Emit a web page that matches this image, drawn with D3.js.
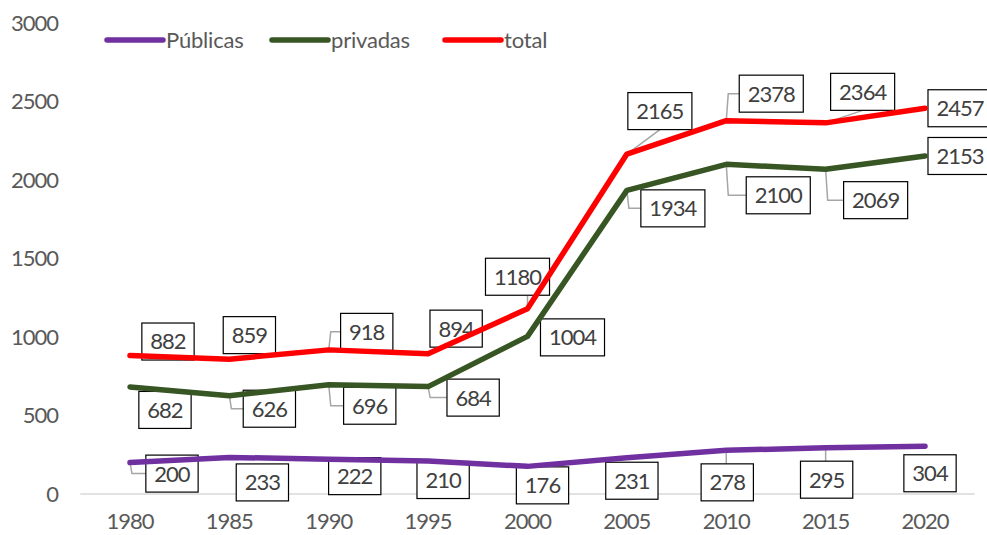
<!DOCTYPE html>
<html>
<head>
<meta charset="utf-8">
<script src="https://cdn.jsdelivr.net/npm/d3@7"></script>
<style>
  html, body { margin: 0; padding: 0; background: #fff; }
  svg { display: block; }
  text { font-family: Lato, "Open Sans", sans-serif; }
</style>
</head>
<body>
<div id="chart"></div>
<script>
// Instituciones por año: públicas, privadas y total
const years = ["1980", "1985", "1990", "1995", "2000", "2005", "2010", "2015", "2020"];
const publicas = [200, 233, 222, 210, 176, 231, 278, 295, 304];
const privadas = [682, 626, 696, 684, 1004, 1934, 2100, 2069, 2153];
const total = [882, 859, 918, 894, 1180, 2165, 2378, 2364, 2457];
const yTicks = [0, 500, 1000, 1500, 2000, 2500, 3000];
const seriesNames = ["Públicas", "privadas", "total"];

// Label box placement relative to its point (px), and whether a leader line is drawn
const labelShift = {
  "Públicas": [[42, 11], [33, 25], [26, 17], [15, 19], [15, 19], [5, 23], [1, 32], [1, 32], [5, 27]],
  "privadas": [[35, 23], [40, 13], [41, 21], [45, 11], [45, 1], [46, 18], [52, 31], [50, 31], [35, 0]],
  "total":    [[38, -14], [20, -24], [38, -18], [28, -25], [-10, -32], [33, -43], [45, -27], [37, -31], [35, 0]]
};
const leaderOn = {
  "Públicas": [1, 0, 0, 0, 0, 0, 1, 1, 0],
  "privadas": [0, 1, 1, 1, 0, 1, 1, 1, 0],
  "total":    [0, 0, 1, 0, 1, 1, 1, 1, 0]
};

const series = [
  { name: "Públicas", values: publicas, color: "#7030A0" },
  { name: "privadas", values: privadas, color: "#375623" },
  { name: "total", values: total, color: "#FF0000" }
];

const W = 987, H = 535;
const numSize = 22, numSpacing = -1;
const svg = d3.select("#chart").append("svg").attr("width", W).attr("height", H);

const x = d3.scaleBand().domain(years).range([80.3, 974.7]);
const y = d3.scaleLinear().domain([0, 3000]).range([494, 23]);
const cx = d => x(d) + x.bandwidth() / 2;

// Value axis labels
svg.append("g").selectAll("text").data(yTicks).join("text")
  .attr("x", 58).attr("y", d => y(d)).attr("dy", "0.36em")
  .attr("text-anchor", "end").attr("font-size", numSize)
  .attr("letter-spacing", numSpacing).attr("fill", "#595959")
  .text(d => d);

// Category axis labels
svg.append("g").selectAll("text").data(years).join("text")
  .attr("x", d => cx(d)).attr("y", 521.5).attr("dy", "0.36em")
  .attr("text-anchor", "middle").attr("font-size", numSize)
  .attr("letter-spacing", numSpacing).attr("fill", "#595959")
  .text(d => d);

// Baseline
svg.append("line")
  .attr("x1", x.range()[0]).attr("x2", x.range()[1])
  .attr("y1", y(0)).attr("y2", y(0))
  .attr("stroke", "#D9D9D9").attr("stroke-width", 1.3);

// Data labels: leader lines and boxes
const labelLayer = svg.append("g");
const leaderLayer = labelLayer.append("g");
const boxLayer = labelLayer.append("g");

series.forEach(s => {
  s.values.forEach((v, i) => {
    const px = cx(years[i]), py = y(v);
    const [dx, dy] = labelShift[s.name][i];
    const bx = px + dx, by = py + dy;
    const g = boxLayer.append("g");
    const t = g.append("text")
      .attr("x", bx).attr("y", by).attr("dy", "0.36em")
      .attr("text-anchor", "middle").attr("font-size", numSize)
      .attr("letter-spacing", numSpacing).attr("fill", "#404040")
      .text(v);
    const tw = t.node().getComputedTextLength();
    const bw = tw + 17, bh = 37;
    const left = bx - bw / 2, right = bx + bw / 2, top = by - bh / 2, bottom = by + bh / 2;
    g.insert("rect", "text")
      .attr("x", left).attr("y", top).attr("width", bw).attr("height", bh)
      .attr("fill", "#fff").attr("stroke", "#000").attr("stroke-width", 1.2);

    if (leaderOn[s.name][i]) {
      const outX = px < left ? left - px : (px > right ? px - right : 0);
      const outY = py < top ? top - py : (py > bottom ? py - bottom : 0);
      let pts;
      if (outX >= outY) {
        const ex = px < left ? left : right;
        pts = [[px, py], [px + (ex > px ? 2 : -2), by], [ex, by]];
      } else {
        const ey = py < top ? top : bottom;
        const ax = (px > left + 5 && px < right - 5) ? px : bx;
        pts = [[px, py], [ax, ey]];
      }
      leaderLayer.append("path")
        .attr("d", d3.line()(pts))
        .attr("fill", "none").attr("stroke", "#A6A6A6").attr("stroke-width", 1.5);
    }
  });
});

// Series lines
const line = d3.line().x((d, i) => cx(years[i])).y(d => y(d));
svg.append("g").selectAll("path").data(series).join("path")
  .attr("d", d => line(d.values))
  .attr("fill", "none")
  .attr("stroke", d => d.color)
  .attr("stroke-width", 5.5)
  .attr("stroke-linejoin", "round")
  .attr("stroke-linecap", "round");

// Legend
const legendPos = [107, 272, 445];
const legend = svg.append("g").selectAll("g").data(series).join("g")
  .attr("transform", (d, i) => `translate(${legendPos[i]},40)`);
legend.append("line")
  .attr("x1", 0).attr("x2", 56).attr("y1", 0).attr("y2", 0)
  .attr("stroke", d => d.color).attr("stroke-width", 5.5).attr("stroke-linecap", "round");
legend.append("text")
  .attr("x", 59).attr("y", 0).attr("dy", "0.36em")
  .attr("font-size", 22).attr("letter-spacing", -0.2).attr("fill", "#595959")
  .text(d => d.name);
</script>
</body>
</html>
